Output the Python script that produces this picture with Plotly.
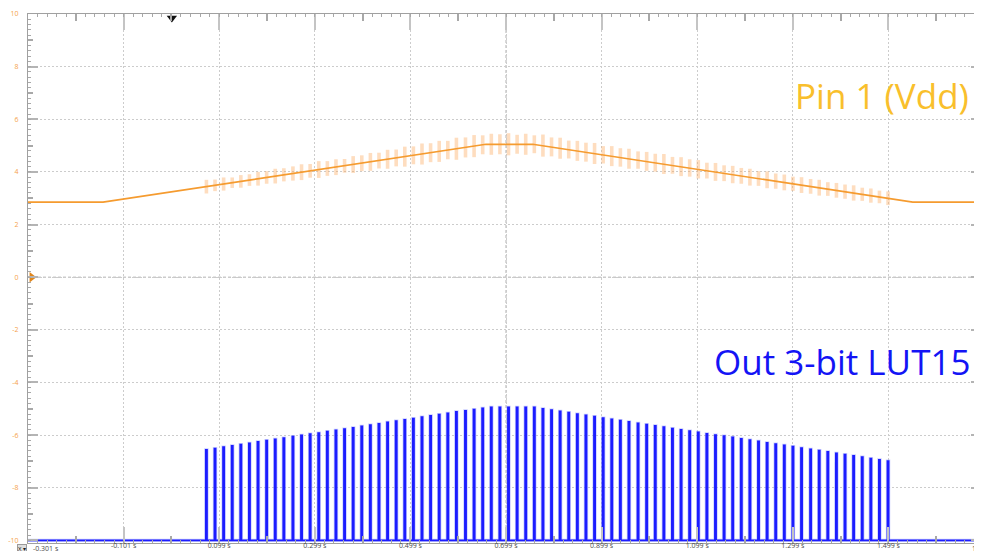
import plotly.graph_objects as go

# ---------------- data ----------------
x_ticks = [-0.301, -0.101, 0.099, 0.299, 0.499, 0.699, 0.899, 1.099, 1.299, 1.499, 1.699]
x_tick_labels = ["-0.301 s", "-0.101 s", "0.099 s", "0.299 s", "0.499 s", "0.699 s",
                 "0.899 s", "1.099 s", "1.299 s", "1.499 s", "1.699 s"]
y_ticks = [10, 8, 6, 4, 2, 0, -2, -4, -6, -8, -10]
y_tick_labels = ["10", "8", "6", "4", "2", "0", "-2", "-4", "-6", "-8", "-10"]

# Pin 1 (Vdd) envelope (V)
vdd_t = [-0.301, -0.144, 0.657, 0.755, 1.550, 1.699]
vdd_v = [2.85, 2.85, 5.05, 5.05, 2.85, 2.85]

# Out 3-bit LUT15 pulse train: pulse start times (s) and pulse top levels (display units)
pulse_t = [0.071, 0.089, 0.107, 0.125, 0.143, 0.161, 0.179, 0.197, 0.215, 0.233,
           0.252, 0.270, 0.288, 0.306, 0.324, 0.342, 0.360, 0.378, 0.396, 0.414,
           0.432, 0.450, 0.468, 0.486, 0.504, 0.522, 0.540, 0.558, 0.576, 0.594,
           0.613, 0.631, 0.649, 0.667, 0.685, 0.703, 0.721, 0.739, 0.757, 0.775,
           0.793, 0.811, 0.829, 0.847, 0.865, 0.883, 0.901, 0.919, 0.937, 0.955,
           0.974, 0.992, 1.010, 1.028, 1.046, 1.064, 1.082, 1.100, 1.118, 1.136,
           1.154, 1.172, 1.190, 1.208, 1.226, 1.244, 1.262, 1.280, 1.298, 1.316,
           1.335, 1.353, 1.371, 1.389, 1.407, 1.425, 1.443, 1.461, 1.479, 1.497]
pulse_top = [-6.56, -6.51, -6.46, -6.41, -6.36, -6.31, -6.26, -6.21, -6.16, -6.11,
             -6.06, -6.01, -5.96, -5.92, -5.87, -5.82, -5.77, -5.72, -5.67, -5.62,
             -5.57, -5.52, -5.47, -5.42, -5.37, -5.32, -5.27, -5.22, -5.17, -5.12,
             -5.08, -5.03, -4.98, -4.95, -4.95, -4.95, -4.95, -4.95, -4.95, -5.00,
             -5.05, -5.10, -5.15, -5.20, -5.25, -5.30, -5.35, -5.40, -5.45, -5.50,
             -5.55, -5.60, -5.65, -5.70, -5.75, -5.80, -5.85, -5.90, -5.95, -6.00,
             -6.04, -6.09, -6.14, -6.19, -6.24, -6.29, -6.34, -6.39, -6.44, -6.49,
             -6.54, -6.59, -6.64, -6.69, -6.74, -6.79, -6.84, -6.89, -6.94, -6.99]
lut_low = -10.0
pulse_width = 0.0025

# Vdd ripple at each pulse: centre level and half-amplitude (V)
ripple_mid = [3.44, 3.49, 3.54, 3.59, 3.64, 3.69, 3.74, 3.79, 3.84, 3.89,
              3.94, 3.99, 4.04, 4.09, 4.13, 4.18, 4.23, 4.28, 4.33, 4.38,
              4.43, 4.48, 4.53, 4.58, 4.63, 4.68, 4.73, 4.78, 4.83, 4.88,
              4.93, 4.98, 5.03, 5.05, 5.05, 5.05, 5.05, 5.05, 5.05, 5.00,
              4.95, 4.90, 4.85, 4.80, 4.75, 4.70, 4.65, 4.60, 4.55, 4.50,
              4.45, 4.40, 4.35, 4.30, 4.25, 4.20, 4.15, 4.10, 4.05, 4.00,
              3.95, 3.90, 3.85, 3.80, 3.75, 3.70, 3.65, 3.60, 3.55, 3.50,
              3.45, 3.40, 3.35, 3.30, 3.25, 3.20, 3.15, 3.10, 3.05, 3.00]
ripple_amp = [0.26, 0.22, 0.25, 0.20, 0.24, 0.22, 0.26, 0.24, 0.28, 0.25,
              0.27, 0.30, 0.26, 0.32, 0.28, 0.30, 0.26, 0.32, 0.30, 0.34,
              0.30, 0.36, 0.32, 0.38, 0.34, 0.40, 0.36, 0.40, 0.35, 0.42,
              0.38, 0.42, 0.36, 0.40, 0.38, 0.42, 0.36, 0.40, 0.34, 0.42,
              0.36, 0.40, 0.34, 0.38, 0.36, 0.40, 0.33, 0.38, 0.35, 0.38,
              0.33, 0.36, 0.34, 0.38, 0.32, 0.36, 0.33, 0.35, 0.30, 0.34,
              0.30, 0.33, 0.30, 0.32, 0.28, 0.32, 0.29, 0.30, 0.27, 0.30,
              0.28, 0.30, 0.26, 0.28, 0.27, 0.29, 0.25, 0.27, 0.24, 0.26]

trigger_time = 0.0
trigger_level = 3.24
ch_offset = 0.0

# ---------------- styling ----------------
FONT = "Open Sans"
ORANGE = "#f59b2f"
BLUE = "#1c1cff"
X_RIGHT = 1.6927
Y_RANGE = [-10.1, 10.0]

fig = go.Figure()

# Vdd ripple bars
rx, ry = [], []
for t, m, a in zip(pulse_t, ripple_mid, ripple_amp):
    rx += [t + pulse_width / 2, t + pulse_width / 2, None]
    ry += [m - a, m + a, None]
fig.add_trace(go.Scatter(x=rx, y=ry, mode="lines",
                         line=dict(color="rgba(252,170,95,0.40)", width=3.6),
                         hoverinfo="skip", showlegend=False))

# Vdd trace
fig.add_trace(go.Scatter(x=vdd_t, y=vdd_v, mode="lines",
                         line=dict(color=ORANGE, width=1.7),
                         name="Pin 1 (Vdd)", showlegend=False))

# LUT output pulse train
bx, by = [x_ticks[0]], [lut_low]
for t, h in zip(pulse_t, pulse_top):
    bx += [t, t, t + pulse_width, t + pulse_width]
    by += [lut_low, h, h, lut_low]
bx.append(x_ticks[-1])
by.append(lut_low)
fig.add_trace(go.Scatter(x=bx, y=by, mode="lines",
                         line=dict(color="rgba(120,130,255,0.40)", width=3.2),
                         hoverinfo="skip", showlegend=False))
fig.add_trace(go.Scatter(x=bx, y=by, mode="lines",
                         line=dict(color=BLUE, width=1.7),
                         name="Out 3-bit LUT15", showlegend=False))

# indicator markers
fig.add_trace(go.Scatter(x=[trigger_time], y=[9.85], mode="markers",
                         marker=dict(symbol="triangle-down", size=9, color="#111111"),
                         cliponaxis=False, hoverinfo="skip", showlegend=False))
fig.add_trace(go.Scatter(x=[x_ticks[0] + 0.008], y=[ch_offset], mode="markers",
                         marker=dict(symbol="triangle-right", size=9, color="#e0861c"),
                         cliponaxis=False, hoverinfo="skip", showlegend=False))
fig.add_trace(go.Scatter(x=[X_RIGHT - 0.006], y=[trigger_level], mode="markers",
                         marker=dict(symbol="triangle-left", size=8, color="#b8691e"),
                         cliponaxis=False, hoverinfo="skip", showlegend=False))

# dummy trace for fine tick overlay axes
fig.add_trace(go.Scatter(x=[None], y=[None], xaxis="x2", yaxis="y2",
                         hoverinfo="skip", showlegend=False))

x_mid = [(a + b) / 2 for a, b in zip(x_ticks, x_ticks[1:])]
y_mid = [(a + b) / 2 for a, b in zip(y_ticks, y_ticks[1:])]

# page body has an 8px default margin, so the figure is sized/offset for it
fig.update_layout(
    width=974, height=543, autosize=False,
    margin=dict(l=20, r=1, t=6, b=8),
    paper_bgcolor="white", plot_bgcolor="white",
    xaxis=dict(
        range=[x_ticks[0], X_RIGHT], tickmode="array", tickvals=x_ticks,
        ticktext=[""] + x_tick_labels[1:], automargin=False,
        showgrid=True, gridcolor="#cccccc", griddash="2px,2px", gridwidth=1,
        zeroline=False, ticks="inside", ticklen=16, tickwidth=1.5, tickcolor="#c4c4c4",
        showline=True, linecolor="#a0a0a0", linewidth=1, mirror="allticks",
        ticklabelstandoff=-4,
        tickfont=dict(family=FONT, size=7, color="#4a4a4a"),
        minor=dict(tickmode="array", tickvals=x_mid, ticks="inside", ticklen=7,
                   tickcolor="#a8a8a8", showgrid=False),
    ),
    yaxis=dict(
        range=Y_RANGE, tickmode="array", tickvals=y_ticks, ticktext=y_tick_labels,
        automargin=False,
        showgrid=True, gridcolor="#cccccc", griddash="2px,2px", gridwidth=1,
        zeroline=False, ticks="inside", ticklen=10, tickwidth=1.5, tickcolor="#b4b4b4",
        showline=True, linecolor="#a0a0a0", linewidth=1, mirror="allticks",
        ticklabelstandoff=7,
        tickfont=dict(family=FONT, size=7, color="#f5a24c"),
        minor=dict(tickmode="array", tickvals=y_mid, ticks="inside", ticklen=5,
                   tickcolor="#a8a8a8", showgrid=False),
    ),
    xaxis2=dict(
        overlaying="x", anchor="y2", range=[x_ticks[0], X_RIGHT], showgrid=False,
        zeroline=False, showticklabels=False, tickmode="linear", tick0=x_ticks[0],
        dtick=0.02, ticks="inside", ticklen=3, tickcolor="#a8a8a8", mirror="allticks",
        showline=False, automargin=False,
    ),
    yaxis2=dict(
        overlaying="y", anchor="x2", range=Y_RANGE, showgrid=False, zeroline=False,
        showticklabels=False, tickmode="linear", tick0=0, dtick=0.2, ticks="inside",
        ticklen=3, tickcolor="#a8a8a8", mirror="allticks", showline=False,
        automargin=False,
    ),
    shapes=[
        dict(type="line", xref="x", yref="paper", x0=x_ticks[5], x1=x_ticks[5], y0=0, y1=1,
             line=dict(color="#b0b0b0", width=1, dash="3px,2px"), layer="below"),
        dict(type="line", xref="paper", yref="y", x0=0, x1=1, y0=ch_offset, y1=ch_offset,
             line=dict(color="#b0b0b0", width=1, dash="3px,2px"), layer="below"),
    ],
    annotations=[
        dict(text="Pin 1 (Vdd)", xref="paper", yref="paper", x=0.989, y=0.845,
             xanchor="right", yanchor="middle", showarrow=False,
             font=dict(family=FONT, size=35, color="#f9bf2c")),
        dict(text="Out 3-bit LUT15", xref="paper", yref="paper", x=0.991, y=0.343,
             xanchor="right", yanchor="middle", showarrow=False,
             font=dict(family=FONT, size=35, color="#1414f5")),
        dict(text=x_tick_labels[0], xref="x", yref="paper", x=x_ticks[0], y=0,
             xanchor="left", yanchor="top", xshift=3, yshift=1, showarrow=False,
             font=dict(family=FONT, size=7, color="#4a4a4a")),
        dict(text=x_tick_labels[-1], xref="paper", yref="paper",
             x=(x_ticks[-1] - x_ticks[0]) / (X_RIGHT - x_ticks[0]), y=0,
             xanchor="center", yanchor="top", yshift=1, showarrow=False,
             font=dict(family=FONT, size=7, color="#4a4a4a")),
        dict(text="X ▾", xref="paper", yref="paper", x=0, y=0, xanchor="right",
             yanchor="top", xshift=-1, yshift=-1, showarrow=False, bgcolor="#dedede",
             bordercolor="#9a9a9a", borderwidth=1, borderpad=0,
             font=dict(family=FONT, size=6, color="#222222")),
    ],
)

fig.write_html("out.html")
